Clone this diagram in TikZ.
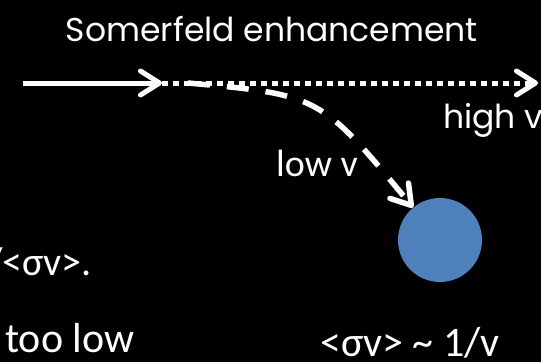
\documentclass[tikz,border=0pt]{standalone}
\usepackage{fontspec}
\setmainfont{Carlito}
\newfontfamily\comicfont{Poppins}
\usetikzlibrary{arrows.meta}
\definecolor{blobblue}{RGB}{79,129,189}
\tikzset{
    chev/.style = {-{Straight Barb[length=19pt,width=24pt,round]}},
    slidetext/.style = {text=white, inner sep=0pt},
    handtext/.style = {slidetext, font=\comicfont\fontsize{33}{38}\selectfont},
    calitext/.style = {slidetext, font=\fontsize{42}{48}\selectfont}
}
\begin{document}
\begin{tikzpicture}[x=1pt, y=-1pt]
    \fill [black] (0,0) rectangle (541,362);
    \useasboundingbox (0,0) rectangle (541,362);
    \clip (0,0) rectangle (541,362);
    \coordinate (from) at (23,83);
    \coordinate (split) at (162,83);
    \coordinate (far) at (538,83);
    \coordinate (bend) at (188,83);
    \node [circle, fill=blobblue, minimum size=84pt, inner sep=0pt] (blob) at (440,240) {};
    \draw [line width=5pt, white, chev] (from) -- (split);
    \draw [line width=5pt, white, dash pattern=on 6pt off 5pt, chev] (split) -- (far);
    \draw [line width=5.5pt, white, dash pattern=on 22pt off 17pt, chev] (bend) .. controls (320,95) .. (blob);
    \node [handtext, anchor=base] (title) at (272,41) {Somerfeld enhancement};
    \node [handtext, anchor=base west] (high) at (443,128) {high v};
    \node [calitext, anchor=base west, font=\fontsize{38}{44}\selectfont] (low) at (276,176) {low v};
    \node [calitext, anchor=base east, font=\fontsize{40}{46}\selectfont] (rate) at (92,275) {/<σv>.};
    \node [calitext, anchor=base west] (toolow) at (5,352) {too low};
    \node [calitext, anchor=base west] (scaling) at (320,356) {<σv> \textasciitilde{} 1/v};
\end{tikzpicture}
\end{document}
